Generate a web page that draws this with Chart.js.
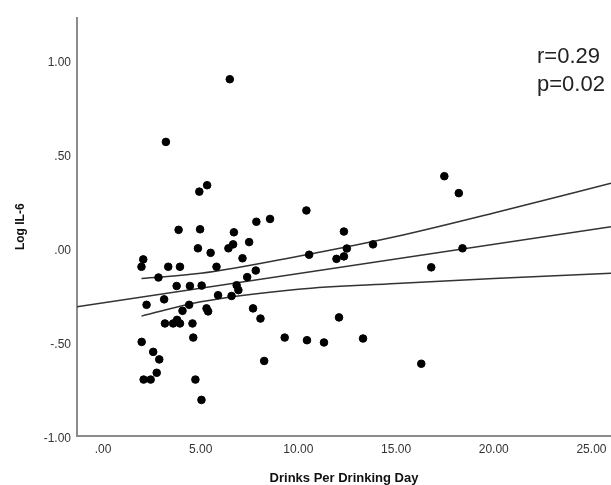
<!DOCTYPE html>
<html>
<head>
<meta charset="utf-8">
<script src="https://cdn.jsdelivr.net/npm/chart.js@4"></script>
<style>
  html, body { margin: 0; padding: 0; background: #fff; }
  #wrap { width: 611px; height: 485px; position: relative; }
</style>
</head>
<body>
<div id="wrap"><canvas id="chart"></canvas></div>
<script>
// scatter: drinks per drinking day vs log IL-6
const drinks = [6.49, 3.22, 4.93, 5.33, 3.87, 4.97, 6.70, 7.85, 8.55, 10.41,
  7.48, 6.66, 6.42, 4.86, 5.51, 2.06, 1.97, 3.34, 3.94, 5.81,
  7.14, 2.84, 3.77, 4.45, 5.05, 6.84, 6.93, 7.38, 7.82, 5.89,
  6.58, 2.23, 3.13, 4.41, 4.07, 5.30, 5.38, 7.68, 8.06, 3.17,
  3.59, 3.79, 3.94, 4.58, 4.62, 1.98, 2.57, 2.88, 2.75, 2.08,
  2.44, 4.73, 5.04, 9.30, 10.44, 8.25, 10.55, 12.33, 12.48, 11.95,
  12.33, 13.82, 18.40, 16.80, 12.08, 11.31, 13.31, 16.29, 17.47, 18.21];
const logIL6 = [0.91, 0.577, 0.313, 0.347, 0.11, 0.113, 0.097, 0.153, 0.168, 0.213,
  0.045, 0.033, 0.012, 0.012, -0.012, -0.047, -0.086, -0.086, -0.086, -0.086,
  -0.041, -0.143, -0.188, -0.188, -0.186, -0.184, -0.21, -0.141, -0.106, -0.237,
  -0.241, -0.288, -0.259, -0.288, -0.32, -0.307, -0.323, -0.307, -0.361, -0.387,
  -0.387, -0.368, -0.387, -0.387, -0.462, -0.485, -0.538, -0.578, -0.649, -0.685,
  -0.685, -0.685, -0.793, -0.462, -0.476, -0.586, -0.022, 0.101, 0.011, -0.044,
  -0.031, 0.033, 0.012, -0.089, -0.355, -0.488, -0.467, -0.601, 0.395, 0.305];

// fit line and confidence band
const fitX = [-1.33, 26];
const fitY = [-0.299, 0.127];
const ciX = [1.97, 5, 10, 15, 20, 26];
const ciUpper = [-0.148, -0.121, -0.03, 0.075, 0.2, 0.357];
const ciLower = [-0.348, -0.272, -0.205, -0.175, -0.148, -0.121];

const xTicks = [0, 5, 10, 15, 20, 25];
const yTicks = [-1, -0.5, 0, 0.5, 1];
const statLines = ['r=0.29', 'p=0.02'];

const pts = (xs, ys) => xs.map((x, i) => ({ x: x, y: ys[i] }));

// SPSS style: ".50", "-.50"
function fmt(v) {
  let s = v.toFixed(2);
  if (Math.abs(v) < 1) s = s.replace('0.', '.');
  return s;
}

const statsText = {
  id: 'statsText',
  afterDraw(chart) {
    const { ctx, chartArea } = chart;
    ctx.save();
    ctx.font = '22px "Liberation Sans", Arial, sans-serif';
    ctx.fillStyle = '#222';
    ctx.textAlign = 'left';
    ctx.textBaseline = 'alphabetic';
    statLines.forEach((t, i) => {
      ctx.fillText(t, chartArea.right - 74, chartArea.top + 45 + i * 28);
    });
    ctx.restore();
  }
};

const lineStyle = { borderColor: '#333', borderWidth: 1.5, pointRadius: 0, showLine: true, fill: false };

new Chart(document.getElementById('chart'), {
  type: 'scatter',
  data: {
    datasets: [
      { data: pts(drinks, logIL6), backgroundColor: '#000', borderColor: '#000',
        pointRadius: 3.8, pointHoverRadius: 3.8, order: 0 },
      Object.assign({ data: pts(fitX, fitY), order: 1 }, lineStyle),
      Object.assign({ data: pts(ciX, ciUpper), cubicInterpolationMode: 'monotone', order: 1 }, lineStyle),
      Object.assign({ data: pts(ciX, ciLower), cubicInterpolationMode: 'monotone', order: 1 }, lineStyle)
    ]
  },
  options: {
    responsive: true,
    maintainAspectRatio: false,
    animation: false,
    layout: { autoPadding: false, padding: { top: 18, right: 0, left: 0, bottom: 0 } },
    plugins: { legend: { display: false }, tooltip: { enabled: false } },
    scales: {
      x: {
        type: 'linear',
        min: -1.33,
        max: 26,
        afterBuildTicks: s => { s.ticks = xTicks.map(v => ({ value: v })); },
        afterFit: s => { s.height = 49.5; s.paddingLeft = 0; s.paddingRight = 0; },
        grid: { display: false, drawTicks: false },
        border: { display: true, color: '#8c8c8c', width: 2 },
        ticks: {
          padding: 7,
          color: '#333',
          font: { family: '"Liberation Sans", Arial', size: 12 },
          callback: v => fmt(v)
        },
        title: {
          display: true,
          text: 'Drinks Per Drinking Day',
          color: '#111',
          padding: { top: 0, bottom: 0 },
          font: { family: '"Liberation Sans", Arial', size: 13, weight: 'bold', lineHeight: 1 }
        }
      },
      y: {
        min: -0.982,
        max: 1.235,
        afterBuildTicks: s => { s.ticks = yTicks.map(v => ({ value: v })); },
        afterFit: s => { s.width = 77; s.paddingTop = 0; s.paddingBottom = 0; },
        grid: { display: false, drawTicks: false },
        border: { display: true, color: '#8c8c8c', width: 2 },
        ticks: {
          padding: 6,
          color: '#333',
          font: { family: '"Liberation Sans", Arial', size: 12 },
          callback: v => fmt(v)
        },
        title: {
          display: true,
          text: 'Log IL-6',
          color: '#111',
          padding: { top: 13, bottom: 0 },
          font: { family: '"Liberation Sans", Arial', size: 12, weight: 'bold' }
        }
      }
    }
  },
  plugins: [statsText]
});
</script>
</body>
</html>
